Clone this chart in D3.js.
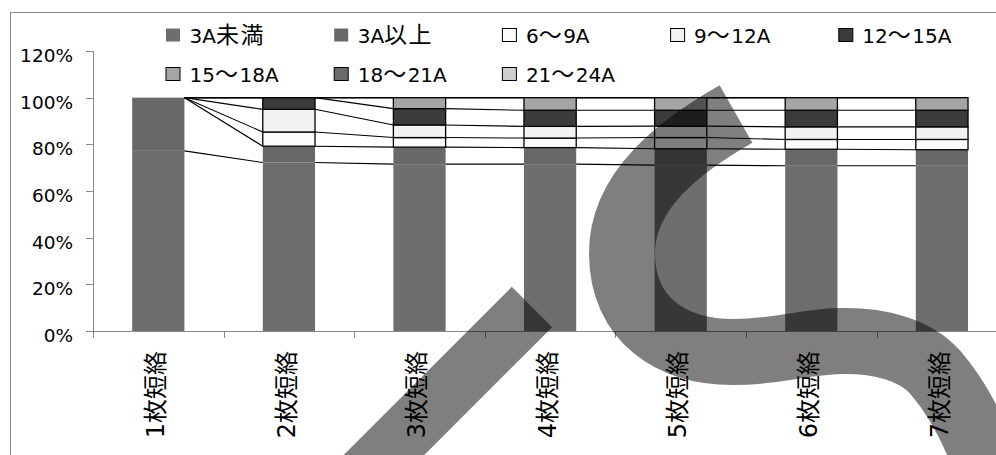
<!DOCTYPE html>
<html>
<head>
<meta charset="utf-8">
<script src="https://cdn.jsdelivr.net/npm/d3@7"></script>
<style>
  html, body { margin: 0; padding: 0; background: #fff; overflow: hidden; }
  svg { display: block; }
</style>
</head>
<body>
<svg id="chart" width="996" height="455"></svg>
<script>
// ---------------- data ----------------
const categories = ["1枚短絡", "2枚短絡", "3枚短絡", "4枚短絡", "5枚短絡", "6枚短絡", "7枚短絡"];
const seriesNames = ["3A未満", "3A以上", "6～9A", "9～12A", "12～15A", "15～18A", "18～21A", "21～24A"];
const under3A   = [77.2, 72.2, 71.5, 71.5, 71.1, 70.8, 70.8];
const over3A    = [22.8,  7.0,  7.3,  7.1,  7.0,  7.1,  6.9];
const a6to9     = [ 0.0,  6.1,  4.1,  4.1,  4.8,  4.2,  4.4];
const a9to12    = [ 0.0,  9.7,  5.4,  5.0,  4.9,  5.4,  5.4];
const a12to15   = [ 0.0,  5.0,  7.0,  6.9,  6.8,  7.1,  7.1];
const a15to18   = [ 0.0,  0.0,  4.7,  5.4,  5.4,  5.4,  5.4];
const a18to21   = [ 0.0,  0.0,  0.0,  0.0,  0.0,  0.0,  0.0];
const a21to24   = [ 0.0,  0.0,  0.0,  0.0,  0.0,  0.0,  0.0];
const yTickValues = [0, 20, 40, 60, 80, 100, 120];

const seriesValues = [under3A, over3A, a6to9, a9to12, a12to15, a15to18, a18to21, a21to24];
const seriesColors = ["#6e6e6e", "#686868", "#fbfbfb", "#f2f2f2", "#3b3b3b", "#a5a5a5", "#6b6b6b", "#cfcfcf"];
const seriesBorder = [false, false, true, true, true, true, true, true];

// ---------------- layout ----------------
const svg = d3.select("#chart");
const plotLeft = 93, plotBottom = 331;
const step = 130.6;
const plotRight = plotLeft + step * categories.length;

const x = d3.scaleBand().domain(categories).range([plotLeft, plotRight])
  .paddingInner(0.6).paddingOuter(0.3);
const y = d3.scaleLinear().domain([0, 120]).range([plotBottom, 51]);

const rows = categories.map((c, i) => {
  const r = { cat: c };
  seriesNames.forEach((s, k) => r[s] = seriesValues[k][i]);
  return r;
});
const stacked = d3.stack().keys(seriesNames)(rows);

// chart frame
svg.append("rect").attr("x", 10.5).attr("y", 12.5).attr("width", 1200).attr("height", 700)
  .attr("fill", "#fff").attr("stroke", "#888").attr("stroke-width", 1);

function mixedText(sel, str, latinSize, cjkSize, cjkSpacing) {
  const runs = [];
  for (const ch of str) {
    const cjk = ch.codePointAt(0) > 0x2E7F;
    if (runs.length && runs[runs.length - 1].cjk === cjk) runs[runs.length - 1].t += ch;
    else runs.push({ t: ch, cjk });
  }
  runs.forEach(r => {
    sel.append("tspan").text(r.t)
      .attr("font-family", r.cjk ? "'Noto Sans CJK JP', sans-serif" : "'DejaVu Sans', sans-serif")
      .attr("font-size", r.cjk ? cjkSize : latinSize)
      .style("letter-spacing", r.cjk ? cjkSpacing + "px" : "0px");
  });
}

// bars
const gBars = svg.append("g");
stacked.forEach((layer, k) => {
  gBars.selectAll(null).data(layer).enter().append("rect")
    .attr("x", d => x(d.data.cat))
    .attr("width", x.bandwidth())
    .attr("y", d => y(d[1]))
    .attr("height", d => Math.max(0, y(d[0]) - y(d[1])))
    .attr("fill", seriesColors[k])
    .attr("stroke", seriesBorder[k] ? "#000" : "none")
    .attr("stroke-width", 1.3);
});

// series lines
const gLines = svg.append("g");
stacked.forEach((layer, k) => {
  for (let i = 0; i < categories.length - 1; i++) {
    gLines.append("line")
      .attr("x1", x(categories[i]) + x.bandwidth())
      .attr("y1", y(layer[i][1]))
      .attr("x2", x(categories[i + 1]))
      .attr("y2", y(layer[i + 1][1]))
      .attr("stroke", "#000").attr("stroke-width", 1.1);
  }
});

// y axis
const gY = svg.append("g");
gY.append("line").attr("x1", plotLeft + 0.5).attr("x2", plotLeft + 0.5)
  .attr("y1", y(120)).attr("y2", plotBottom).attr("stroke", "#888");
yTickValues.forEach(v => {
  gY.append("line").attr("x1", plotLeft - 7).attr("x2", plotLeft + 0.5)
    .attr("y1", Math.round(y(v)) + 0.5).attr("y2", Math.round(y(v)) + 0.5).attr("stroke", "#888");
  gY.append("text").attr("x", 73).attr("y", y(v) + 11)
    .attr("text-anchor", "end")
    .attr("font-family", "'DejaVu Sans', sans-serif").attr("font-size", 18.5)
    .attr("fill", "#000").text(v + "%");
});

// x axis
const gX = svg.append("g");
gX.append("line").attr("x1", plotLeft).attr("x2", plotRight + 20)
  .attr("y1", plotBottom + 0.5).attr("y2", plotBottom + 0.5).attr("stroke", "#888");
for (let i = 0; i <= categories.length; i++) {
  const xx = Math.round(plotLeft + i * step) + 0.5;
  gX.append("line").attr("x1", xx).attr("x2", xx)
    .attr("y1", plotBottom).attr("y2", plotBottom + 7).attr("stroke", "#888");
}
categories.forEach(c => {
  const cx = x(c) + x.bandwidth() / 2;
  const t = gX.append("text")
    .attr("transform", `translate(${cx},351) rotate(-90)`)
    .attr("text-anchor", "end").attr("dy", "0.36em").attr("fill", "#000");
  mixedText(t, c, 24, 24, 0);
});

// legend
const gLeg = svg.append("g");
seriesNames.forEach((s, k) => {
  const row = k < 5 ? 0 : 1, col = k < 5 ? k : k - 5;
  const lx = 166 + col * 168.2;
  const ly = row === 0 ? 35 : 74;
  gLeg.append("rect").attr("x", lx).attr("y", ly - 6.5).attr("width", 14).attr("height", 13)
    .attr("fill", seriesColors[k])
    .attr("stroke", seriesBorder[k] ? "#000" : "none").attr("stroke-width", 1);
  const t = gLeg.append("text").attr("x", lx + 23.5).attr("y", ly + 7.5).attr("fill", "#000");
  mixedText(t, s, 20, 23, 1.5);
});

// overlay strokes
const gOv = svg.append("g");
gOv.append("path")
  .attr("d", "M532,307 L322,517")
  .attr("fill", "none").attr("stroke", "rgba(0,0,0,0.5)").attr("stroke-width", 57);
gOv.append("path")
  .attr("d", "M736,114 C680,146 622,190 622,253 C622,320 672,352 733,352 C780,352 800,342 840,341 C880,340 915,350 935,372 C955,395 975,430 990,475")
  .attr("fill", "none").attr("stroke", "rgba(0,0,0,0.5)").attr("stroke-width", 66);
</script>
</body>
</html>
